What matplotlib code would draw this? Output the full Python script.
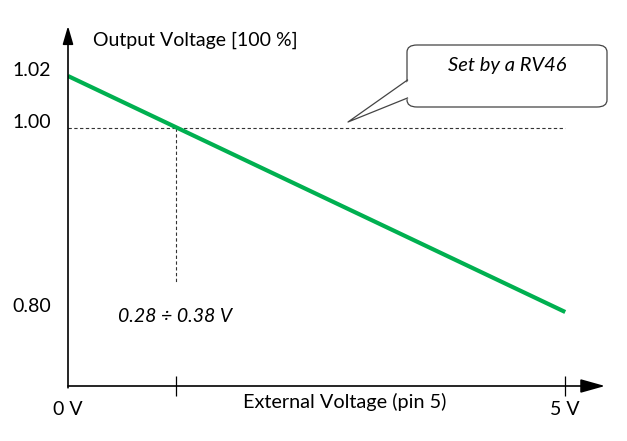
import numpy as np
import matplotlib
matplotlib.use("Agg")
import matplotlib.pyplot as plt
from matplotlib.patches import FancyBboxPatch, Polygon
from matplotlib.transforms import ScaledTranslation

plt.rcParams['font.family'] = ['Lato', 'DejaVu Sans']

# data
ext_voltage = [0, 5]          # V, pin 5
out_voltage = [1.02, 0.80]    # x 100 %
set_level = 1.00
x_cross = 1.09
y_ticks = [0.80, 1.00, 1.02]
y_labels = ['0.80', '1.00', '1.02']
x_ticks = [0, x_cross, 5]
x_labels = ['0 V', '', '5 V']

W, H = 627, 441
fig = plt.figure(figsize=(W / 100, H / 100), dpi=100)


def fp(px, py):
    # pixel (from top-left) -> figure fraction
    return px / W, 1 - py / H


# axes from x=68..605 px, y=26..386 px
ax = fig.add_axes([68 / W, (H - 386) / H, (605 - 68) / W, (386 - 26) / H])


# schematic (non linear) y axis like the original drawing
def fwd(v):
    v = np.asarray(v, dtype=float)
    return np.where(v < 1.0, (v - 1.0) * 920, (v - 1.0) * 2600)


def inv(u):
    u = np.asarray(u, dtype=float)
    return np.where(u < 0, 1.0 + u / 920, 1.0 + u / 2600)


ax.set_yscale('function', functions=(fwd, inv))
ax.set_xlim(0, 5.4)
ax.set_ylim(0.71957, 1.03923)

for s in ax.spines.values():
    s.set_visible(False)

# main curve
ax.plot(ext_voltage, out_voltage, color='#00b050', lw=3, solid_capstyle='butt', zorder=3)

# dashed guides
ax.plot([0, ext_voltage[1]], [set_level, set_level], color='#333333', lw=0.8,
        dashes=(3, 2.2), zorder=2)
ax.plot([x_cross, x_cross], [set_level, 0.833], color='#333333', lw=0.8,
        dashes=(3, 2.2), zorder=2)

# axis arrows
ax.annotate('', xy=(1, 0), xytext=(0, 0), xycoords='axes fraction',
            arrowprops=dict(arrowstyle='-|>,head_length=1.5,head_width=0.42',
                            color='black', lw=1.2, shrinkA=0, shrinkB=0))
ax.annotate('', xy=(0, 1), xytext=(0, -0.005), xycoords='axes fraction',
            arrowprops=dict(arrowstyle='-|>,head_length=1.1,head_width=0.32',
                            color='black', lw=1.2, shrinkA=0, shrinkB=0))

# ticks
ax.set_xticks(x_ticks, x_labels, fontsize=14)
ax.tick_params(axis='x', direction='inout', length=14, width=0.9, pad=4)
ax.xaxis.get_major_ticks()[0].tick1line.set_visible(False)
ax.set_yticks(y_ticks, y_labels, fontsize=14)
ax.yaxis.set_minor_locator(matplotlib.ticker.NullLocator())
ax.tick_params(axis='y', length=0, pad=12)
for lab in ax.get_yticklabels():
    lab.set_transform(lab.get_transform() + ScaledTranslation(0, 7 / 100, fig.dpi_scale_trans))

# axis titles
fig.text(*fp(93, 40), 'Output Voltage [100 %]', fontsize=14, va='center', ha='left')
fig.text(*fp(345, 402), 'External Voltage (pin 5)', fontsize=14.3, va='center', ha='center')
fig.text(*fp(175, 317), '0.28 ÷ 0.38 V', fontsize=14, style='italic', va='center', ha='center')

# callout
x0, y0 = fp(407, 107)
x1, y1 = fp(607, 45)
box = FancyBboxPatch((x0, y0), x1 - x0, y1 - y0, transform=fig.transFigure,
                     boxstyle='round,pad=0,rounding_size=0.016', fc='white',
                     ec='#444444', lw=0.9, zorder=5)
fig.add_artist(box)
tip = fp(348, 122)
a1 = fp(407.5, 80)
a2 = fp(407.5, 98)
fig.add_artist(Polygon([fp(410, 80), tip, fp(410, 98)], closed=True, transform=fig.transFigure,
                       fc='white', ec='none', zorder=6))
fig.add_artist(plt.Line2D([a1[0], tip[0], a2[0]], [a1[1], tip[1], a2[1]],
                          transform=fig.transFigure, color='#444444', lw=0.9, zorder=7))
fig.text(*fp(507, 65), 'Set by a RV46', fontsize=14.5, style='italic', va='center',
         ha='center', zorder=8)

fig.savefig('out.png', dpi=100)
